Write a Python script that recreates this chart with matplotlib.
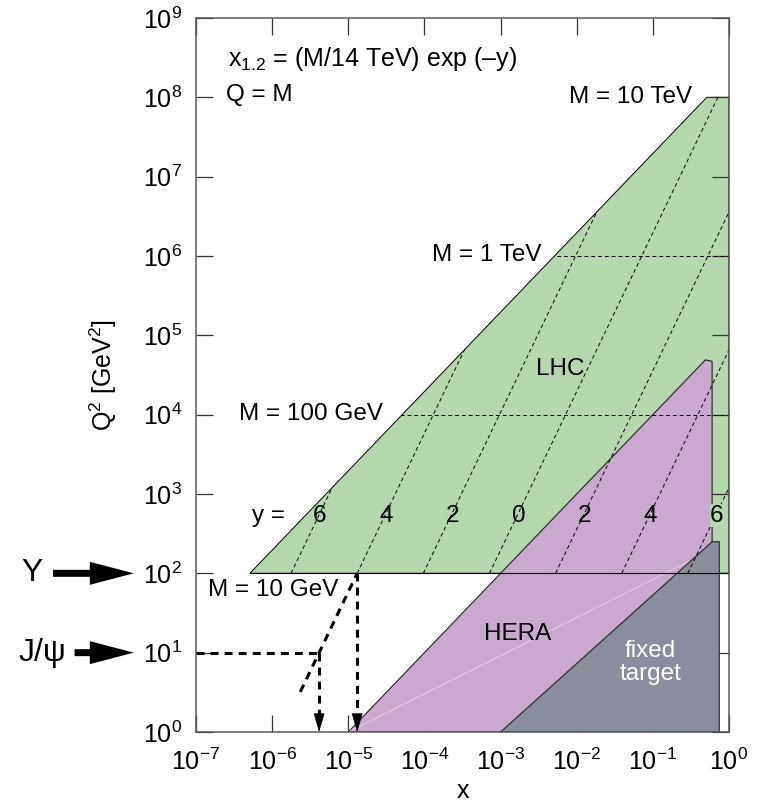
import numpy as np
import matplotlib.pyplot as plt
from matplotlib.patches import Polygon
from matplotlib.ticker import NullLocator

plt.rcParams['font.family'] = ['Liberation Sans', 'DejaVu Sans']
plt.rcParams['mathtext.fontset'] = 'custom'
plt.rcParams['mathtext.rm'] = 'Liberation Sans'
plt.rcParams['mathtext.it'] = 'Liberation Sans:italic'
plt.rcParams['mathtext.sf'] = 'Liberation Sans'

# LHC kinematics: x1,2 = (M/14 TeV) exp(-y), Q = M
sqrt_s = 14000.0
q2_low, q2_high = 1e2, 1e8
rapidities = [6, 4, 2, 0, -2, -4, -6]
mass_lines_q2 = [1e4, 1e6]          # M = 100 GeV, 1 TeV (dashed)

# HERA and fixed target regions, corners
hera_x = [1e-5, 0.49, 0.60, 0.60]
hera_q2 = [1, 4.9e4, 4.7e4, 1]
hera_faint_x = [1e-5, 0.49]
hera_faint_q2 = [1, 180]
fixed_x = [1e-3, 0.60, 0.745, 0.745]
fixed_q2 = [1, 250, 250, 1]

# J/psi and Upsilon production at y = 4
y_onia = 4
jpsi_q2 = 10
ups_q2 = 100
onia_line_q2 = [3.2, 100]

x_exp = list(range(-7, 1))
y_exp = list(range(0, 10))

green = '#b5d7ad'
purple = '#caa8cf'
grey = '#8a8e9c'
fs = 17.5


def x_at(q2, y):
    return np.sqrt(q2) / sqrt_s * np.exp(-y)


fig = plt.figure(figsize=(7.69, 8.02), dpi=100)
ax = fig.add_axes([0.2549, 0.0873, 0.6931, 0.8903])
ax.set_xscale('log')
ax.set_yscale('log')
ax.set_xlim(1e-7, 1)
ax.set_ylim(1, 1e9)

# regions
s = sqrt_s ** 2
lhc = Polygon([(q2_low / s, q2_low), (q2_high / s, q2_high), (1, q2_high), (1, q2_low)],
              closed=True, fc=green, ec='k', lw=0.7, zorder=1)
ax.add_patch(lhc)
ax.add_patch(Polygon(list(zip(hera_x, hera_q2)), closed=True, fc=purple, ec='#222222',
                     lw=0.8, zorder=2))
ax.plot(hera_faint_x, hera_faint_q2, color='#e8d6e8', lw=0.6, zorder=2.5)
ax.add_patch(Polygon(list(zip(fixed_x, fixed_q2)), closed=True, fc=grey, ec='#222222',
                     lw=0.8, zorder=3))

# Q^2 = 100 line across everything
ax.plot([q2_low / s, 1], [q2_low, q2_low], color='k', lw=0.8, zorder=4)

# dashed rapidity and mass lines, clipped to the LHC region
q2_span = np.array([q2_low, q2_high])
for yv in rapidities:
    ln, = ax.plot(x_at(q2_span, yv), q2_span, color='k', lw=0.7,
                  ls=(0, (4, 3)), zorder=4)
    ln.set_clip_path(lhc)
for mq in mass_lines_q2:
    ln, = ax.plot([1e-7, 1], [mq, mq], color='k', lw=0.7, ls=(0, (4, 3)), zorder=4)
    ln.set_clip_path(lhc)

# rapidity labels
lab_q2 = 10 ** 2.76
ax.text(10 ** -6.05, 10 ** 2.65, 'y =', fontsize=fs, ha='center', va='baseline', zorder=6)
for i, yv in enumerate(rapidities):
    kw = {}
    if i == len(rapidities) - 1:
        kw['bbox'] = dict(fc=green, ec='none', pad=0.3)
    ax.text(x_at(lab_q2, yv), 10 ** 2.65, str(abs(yv)), fontsize=fs,
            ha='center', va='baseline', zorder=6, **kw)

# J/psi and Upsilon guide lines
thick = dict(color='k', lw=2.2, ls=(0, (2.6, 2.0)), zorder=5)
oq = np.array(onia_line_q2)
ax.plot(x_at(oq, y_onia), oq, **thick)
x_jpsi = x_at(jpsi_q2, y_onia)
x_ups = x_at(ups_q2, y_onia)
ax.plot([1e-7, x_jpsi], [jpsi_q2, jpsi_q2], **thick)
head_top = 10 ** 0.22
for xv, q in [(x_jpsi, jpsi_q2), (x_ups, ups_q2)]:
    ax.plot([xv, xv], [q, head_top], **thick)
    ax.annotate('', xy=(xv, 1), xytext=(xv, head_top),
                arrowprops=dict(arrowstyle='-|>,head_length=0.85,head_width=0.25',
                                fc='k', ec='k', lw=0.5, shrinkA=0, shrinkB=0,
                                mutation_scale=14.4), zorder=6)

# left-hand arrows
for name, q, x_tail, x_txt in [('\u03a5', ups_q2, 0.069, 0.042), ('J/\u03c8', jpsi_q2, 0.097, 0.055)]:
    ax.annotate('', xy=(0.174, q), xycoords=('figure fraction', 'data'),
                xytext=(x_tail, q), textcoords=('figure fraction', 'data'),
                arrowprops=dict(arrowstyle='simple,head_length=2.2,head_width=1.15,tail_width=0.35',
                                fc='k', ec='none', shrinkA=0, shrinkB=0, mutation_scale=14.4),
                annotation_clip=False)
    ax.annotate(name, xy=(x_txt, q), xycoords=('figure fraction', 'data'),
                fontsize=23, ha='center', va='center', annotation_clip=False)

# text annotations
ax.text(0.060, 0.933, 'x$_{1.2}$ = (M/14 TeV) exp (\u2013y)',
        transform=ax.transAxes, fontsize=fs + 0.5, ha='left', va='baseline')
ax.text(0.056, 0.884, 'Q = M', transform=ax.transAxes, fontsize=fs, ha='left', va='baseline')
ax.text(0.931, 0.889, 'M = 10 TeV', transform=ax.transAxes, fontsize=fs, ha='right', va='center')
ax.text(0.649, 0.668, 'M = 1 TeV', transform=ax.transAxes, fontsize=fs, ha='right', va='center')
ax.text(0.351, 0.445, 'M = 100 GeV', transform=ax.transAxes, fontsize=fs, ha='right', va='center')
ax.text(0.0225, 0.199, 'M = 10 GeV', transform=ax.transAxes, fontsize=fs, ha='left', va='center')
ax.text(0.683, 0.508, 'LHC', transform=ax.transAxes, fontsize=fs, ha='center', va='center', zorder=6)
ax.text(0.604, 0.137, 'HERA', transform=ax.transAxes, fontsize=fs, ha='center', va='center', zorder=6)
ax.text(0.852, 0.097, 'fixed\ntarget', transform=ax.transAxes, fontsize=fs, color='white',
        ha='center', va='center', linespacing=1.05, zorder=6)

# axes styling
ax.set_xticks([10.0 ** e for e in x_exp])
ax.set_xticklabels(['10$^{%d}$' % e for e in x_exp])
ax.set_yticks([10.0 ** e for e in y_exp])
ax.set_yticklabels(['10$^{%d}$' % e for e in y_exp])
ax.xaxis.set_minor_locator(NullLocator())
ax.yaxis.set_minor_locator(NullLocator())
ax.tick_params(which='major', direction='in', length=12, width=0.9, color='#333333',
               top=True, right=True, pad=10, labelsize=18)
ax.tick_params(axis='x', pad=12)
for i, t in enumerate(ax.xaxis.get_major_ticks()):
    if x_exp[i] in (-2, -1):
        t.tick1line.set_color('white')
for sp in ax.spines.values():
    sp.set_color('#5a5a5a')
    sp.set_linewidth(1.1)
    sp.set_zorder(7)

ax.set_ylabel('Q$^2$ [GeV$^2$]', fontsize=18)
ax.yaxis.set_label_coords(-0.145, 0.5)
ax.set_xlabel('x', fontsize=18)
ax.xaxis.set_label_coords(0.5, -0.066)

fig.savefig('out.png', dpi=100)
